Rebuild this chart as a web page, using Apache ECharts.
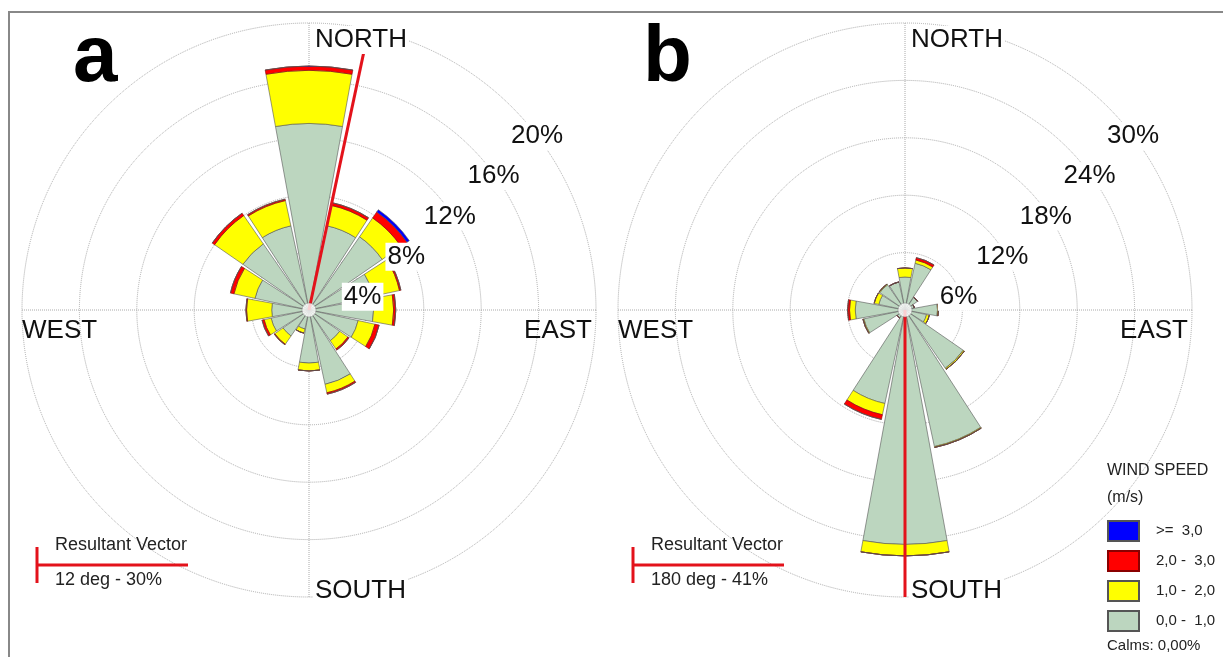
<!DOCTYPE html>
<html>
<head>
<meta charset="utf-8">
<script src="https://cdn.jsdelivr.net/npm/echarts@6/dist/echarts.min.js"></script>
<style>
  html, body { margin: 0; padding: 0; background: #fff; }
  #chart { width: 1223px; height: 657px; }
</style>
</head>
<body>
<div id="chart"></div>
<script>
// 16 wind directions, clockwise from north
const directions = ['N', 'NNE', 'NE', 'ENE', 'E', 'ESE', 'SE', 'SSE', 'S', 'SSW', 'SW', 'WSW', 'W', 'WNW', 'NW', 'NNW'];
const speedClasses = ['0,0 -  1,0', '1,0 -  2,0', '2,0 -  3,0', '>=  3,0'];

// panel a (% frequency per speed class)
const aSpeed01 = [13.0, 6.0, 6.2, 4.6, 4.5, 3.5, 2.6, 5.3, 3.7, 1.35, 2.2, 2.7, 2.6, 3.85, 5.6, 6.0];
const aSpeed12 = [3.7, 1.45, 1.6, 1.85, 1.4, 1.2, 0.7, 0.6, 0.55, 0.3, 0.7, 0.5, 1.75, 1.5, 2.4, 1.8];
const aSpeed23 = [0.3, 0.2, 0.5, 0.1, 0.15, 0.3, 0.1, 0.1, 0, 0, 0.05, 0.15, 0.05, 0.25, 0.2, 0.1];
const aSpeed3p = [0, 0, 0.2, 0, 0, 0, 0, 0, 0, 0, 0, 0, 0, 0, 0, 0];

// panel b
const bSpeed01 = [3.45, 5.0, 1.6, 1.0, 3.4, 2.3, 7.4, 14.6, 24.5, 10.0, 1.0, 4.4, 5.2, 2.8, 3.2, 3.0];
const bSpeed12 = [0.95, 0.35, 0, 0, 0.1, 0.3, 0.15, 0.1, 1.2, 1.2, 0, 0.1, 0.6, 0.5, 0.1, 0];
const bSpeed23 = [0, 0.25, 0, 0, 0, 0, 0, 0, 0, 0.5, 0, 0, 0.2, 0, 0, 0];
const bSpeed3p = [0, 0, 0, 0, 0, 0, 0, 0, 0, 0, 0, 0, 0, 0, 0, 0];

// rings
const aRings = [4, 8, 12, 16, 20];
const bRings = [6, 12, 18, 24, 30];

// resultant vectors: [angle deg, drawn length %]
const aResultant = [12, 20.7];
const bResultant = [180, 30.3];
const aResultantText = '12 deg - 30%';
const bResultantText = '180 deg - 41%';

const colors = ['#bcd6bf', '#ffff00', '#ff0000', '#0000ff'];
const R = 287;
const centers = [[309, 310], [905, 310]];
const FONT = '"Liberation Sans", Arial, sans-serif';

const chart = echarts.init(document.getElementById('chart'));

function panelSeries(idx, data) {
  return data.map((d, i) => ({
    name: speedClasses[i],
    type: 'bar',
    coordinateSystem: 'polar',
    polarIndex: idx,
    stack: 'p' + idx,
    barCategoryGap: '8%',
    z: 3,
    itemStyle: {
      color: colors[i],
      borderColor: i === 2 ? '#8a0000' : '#555',
      borderWidth: 0.6
    },
    data: d
  }));
}

function ringLabels(idx, rings) {
  const c = centers[idx];
  const max = rings[rings.length - 1];
  return rings.map(v => {
    const rp = R * v / max;
    return {
      type: 'text', z: 100,
      style: {
        text: v + '%',
        x: c[0] + 0.76 * rp + 10, y: c[1] - 0.70 * rp + 27,
        align: 'center', verticalAlign: 'middle',
        font: '26px ' + FONT,
        fill: '#111', backgroundColor: '#fff', padding: [1, 2]
      }
    };
  });
}

function compass(idx) {
  const c = centers[idx];
  const f = '26px ' + FONT;
  return [
    { type: 'text', z: 100, style: { text: 'NORTH', x: c[0] + 4, y: 40, verticalAlign: 'middle', font: f, fill: '#111', backgroundColor: '#fff', padding: [1, 2] } },
    { type: 'text', z: 100, style: { text: 'SOUTH', x: c[0] + 4, y: 591, verticalAlign: 'middle', font: f, fill: '#111', backgroundColor: '#fff', padding: [1, 2] } },
    { type: 'text', z: 100, style: { text: 'WEST', x: c[0] - R, y: 331, verticalAlign: 'middle', font: f, fill: '#111' } },
    { type: 'text', z: 100, style: { text: 'EAST', x: c[0] + R - 4, y: 331, align: 'right', verticalAlign: 'middle', font: f, fill: '#111' } }
  ];
}

function vectorKey(x, text) {
  return [
    { type: 'line', z: 100, shape: { x1: x, y1: 547, x2: x, y2: 583 }, style: { stroke: '#e3121b', lineWidth: 3 } },
    { type: 'line', z: 100, shape: { x1: x, y1: 565, x2: x + 151, y2: 565 }, style: { stroke: '#e3121b', lineWidth: 3 } },
    { type: 'text', z: 100, style: { text: 'Resultant Vector', x: x + 18, y: 545, verticalAlign: 'middle', font: '18px ' + FONT, fill: '#222' } },
    { type: 'text', z: 100, style: { text: text, x: x + 18, y: 580, verticalAlign: 'middle', font: '18px ' + FONT, fill: '#222' } }
  ];
}

const gridLine = { show: true, lineStyle: { color: '#aaa', type: 'dotted', width: 1 } };

const option = {
  animation: false,
  backgroundColor: '#fff',
  polar: [
    { center: centers[0], radius: [0, R] },
    { center: centers[1], radius: [0, R] },
    { center: centers[0], radius: [0, R] },
    { center: centers[1], radius: [0, R] }
  ],
  angleAxis: [
    { polarIndex: 0, type: 'category', data: directions, startAngle: 90 + 11.25, clockwise: true,
      axisLine: { show: false }, axisTick: { show: false }, axisLabel: { show: false }, splitLine: { show: false } },
    { polarIndex: 1, type: 'category', data: directions, startAngle: 90 + 11.25, clockwise: true,
      axisLine: { show: false }, axisTick: { show: false }, axisLabel: { show: false }, splitLine: { show: false } },
    { polarIndex: 2, type: 'value', min: 0, max: 360, interval: 90, startAngle: 90, clockwise: true,
      axisLine: { show: false }, axisTick: { show: false }, axisLabel: { show: false }, splitLine: gridLine, z: 1 },
    { polarIndex: 3, type: 'value', min: 0, max: 360, interval: 90, startAngle: 90, clockwise: true,
      axisLine: { show: false }, axisTick: { show: false }, axisLabel: { show: false }, splitLine: gridLine, z: 1 }
  ],
  radiusAxis: [
    { polarIndex: 0, type: 'value', min: 0, max: 20, interval: 4, show: false, splitLine: { show: false } },
    { polarIndex: 1, type: 'value', min: 0, max: 30, interval: 6, show: false, splitLine: { show: false } },
    { polarIndex: 2, type: 'value', min: 0, max: 20, interval: 4, axisLine: { show: false }, axisTick: { show: false },
      axisLabel: { show: false }, splitLine: gridLine, z: 1 },
    { polarIndex: 3, type: 'value', min: 0, max: 30, interval: 6, axisLine: { show: false }, axisTick: { show: false },
      axisLabel: { show: false }, splitLine: gridLine, z: 1 }
  ],
  legend: {
    orient: 'vertical', left: 1107, top: 520, padding: 0,
    itemWidth: 31, itemHeight: 20, itemGap: 8, icon: 'rect',
    selectedMode: false,
    data: ['>=  3,0', '2,0 -  3,0', '1,0 -  2,0', '0,0 -  1,0'],
    textStyle: { fontSize: 15, color: '#222', fontFamily: FONT, padding: [0, 0, 0, 12] }
  },
  series: [
    ...panelSeries(0, [aSpeed01, aSpeed12, aSpeed23, aSpeed3p]),
    ...panelSeries(1, [bSpeed01, bSpeed12, bSpeed23, bSpeed3p]),
    { type: 'line', coordinateSystem: 'polar', polarIndex: 2, clip: false, symbol: 'none', z: 5,
      lineStyle: { color: '#e3121b', width: 3 }, data: [[0, aResultant[0]], [aResultant[1], aResultant[0]]] },
    { type: 'line', coordinateSystem: 'polar', polarIndex: 3, clip: false, symbol: 'none', z: 5,
      lineStyle: { color: '#e3121b', width: 3 }, data: [[0, bResultant[0]], [bResultant[1], bResultant[0]]] },
    { type: 'scatter', coordinateSystem: 'polar', polarIndex: 2, symbolSize: 14, z: 6, silent: true,
      itemStyle: { color: '#fff', borderColor: '#777', borderWidth: 0.5 }, data: [[0, 0]] },
    { type: 'scatter', coordinateSystem: 'polar', polarIndex: 3, symbolSize: 14, z: 6, silent: true,
      itemStyle: { color: '#fff', borderColor: '#777', borderWidth: 0.5 }, data: [[0, 0]] }
  ],
  graphic: [
    { type: 'rect', z: 100, shape: { x: 9, y: 12, width: 1230, height: 660 }, style: { fill: 'none', stroke: '#888', lineWidth: 2 } },
    { type: 'text', z: 100, style: { text: 'a', x: 73, y: 99, verticalAlign: 'bottom', font: 'bold 80px ' + FONT, fill: '#000' } },
    { type: 'text', z: 100, style: { text: 'b', x: 643, y: 99, verticalAlign: 'bottom', font: 'bold 80px ' + FONT, fill: '#000' } },
    ...compass(0), ...compass(1),
    ...ringLabels(0, aRings), ...ringLabels(1, bRings),
    ...vectorKey(37, aResultantText), ...vectorKey(633, bResultantText),
    { type: 'text', z: 100, style: { text: 'WIND SPEED', x: 1107, y: 471, verticalAlign: 'middle', font: '16px ' + FONT, fill: '#222' } },
    { type: 'text', z: 100, style: { text: '(m/s)', x: 1107, y: 498, verticalAlign: 'middle', font: '16px ' + FONT, fill: '#222' } },
    { type: 'text', z: 100, style: { text: 'Calms: 0,00%', x: 1107, y: 646, verticalAlign: 'middle', font: '15px ' + FONT, fill: '#222' } }
  ]
};

chart.setOption(option);
</script>
</body>
</html>
